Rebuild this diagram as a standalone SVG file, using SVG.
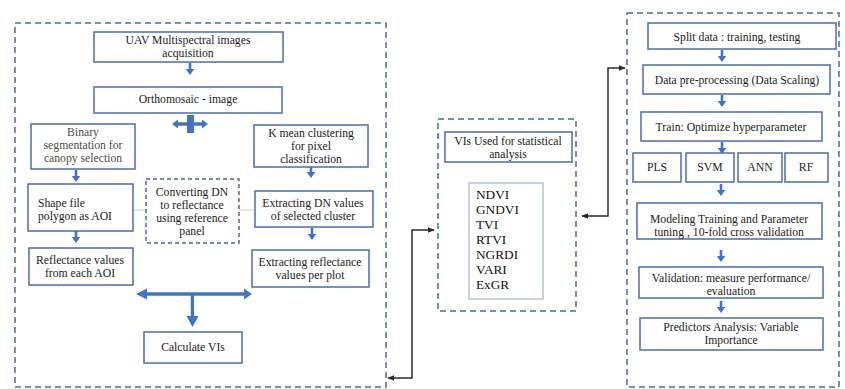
<svg xmlns="http://www.w3.org/2000/svg" xmlns:xlink="http://www.w3.org/1999/xlink" width="845" height="389" viewBox="0 0 845 389">
  <defs>
    <style>
      .box { fill: #ffffff; stroke: #4a6cb0; stroke-width: 1.5; }
      .dash { fill: none; stroke: #4a68a8; stroke-width: 1.5; stroke-dasharray: 6 4; }
      .list { fill: #ffffff; stroke: #a3b3d3; stroke-width: 1.2; }
      .t { font-family: "Liberation Serif", "Times New Roman", serif; font-size: 11.7px; fill: #1c1c1c; text-anchor: middle; }
      .tl { text-anchor: start; }
      .gray { fill: #4d4d4d; }
      .big { font-size: 13.3px; text-anchor: start; fill: #111111; }
      .blue { fill: #4472c4; }
      .link { fill: none; stroke: #2b2b2b; stroke-width: 1.5; }
      .faint { stroke: #c9d2e0; stroke-width: 1; }
    </style>
    <!-- small downward block arrow, origin at the top of the shaft -->
    <path id="down" class="blue" d="M-1.3,0 H1.3 V6 H4.3 L0,12 L-4.3,6 H-1.3 Z"/>
    <marker id="head" viewBox="0 0 10 10" refX="9" refY="5" markerWidth="7" markerHeight="7" orient="auto-start-reverse" markerUnits="userSpaceOnUse">
      <path d="M0,1 L10,5 L0,9 Z" fill="#2b2b2b"/>
    </marker>
  </defs>

  <!-- image processing panel -->
  <rect id="panel-left" class="dash" x="15" y="23" width="371" height="364"/>
  <!-- statistics panel -->
  <rect id="panel-mid" class="dash" x="438" y="119" width="138" height="192"/>
  <!-- modelling panel -->
  <rect id="panel-right" class="dash" x="627" y="13" width="212" height="374"/>

  <g id="connectors">
    <line class="faint" x1="133" y1="210" x2="146" y2="210"/>
    <line class="faint" x1="239" y1="210" x2="255" y2="210"/>

    <use xlink:href="#down" x="190" y="63"/>
    <use xlink:href="#down" x="76" y="170"/>
    <use xlink:href="#down" x="311" y="166"/>
    <use xlink:href="#down" x="76" y="231"/>
    <use xlink:href="#down" x="312" y="228"/>

    <use xlink:href="#down" x="722" y="50"/>
    <use xlink:href="#down" x="722" y="95"/>
    <use xlink:href="#down" x="722" y="142"/>
    <use xlink:href="#down" x="721" y="184"/>
    <use xlink:href="#down" x="721" y="250"/>
    <use xlink:href="#down" x="721" y="301"/>

    <!-- four-way split under the orthomosaic -->
    <path class="blue" d="M172,124 L178,119.5 V122.2 H187 V115 H194 V122.2 H202 V119.5 L208,124 L202,128.5 V125.8 H194 V133 H187 V125.8 H178 V128.5 Z"/>

    <!-- merge arrow into Calculate VIs -->
    <path class="blue" d="M136,294 L147,288.5 V292.3 H244 V288.5 L252,294 L244,299.5 V295.7 H194 V316 H198.5 L192.5,327 L186.5,316 H190.8 V295.7 H147 V299.5 Z"/>

    <!-- links between panels -->
    <polyline class="link" points="388,378 412,378 412,230 434,230" marker-start="url(#head)" marker-end="url(#head)"/>
    <polyline class="link" points="582,216 608,216 608,68 625,68" marker-start="url(#head)" marker-end="url(#head)"/>
  </g>

  <g id="uav">
    <rect class="box" x="94" y="32" width="189" height="30"/>
    <text class="t" x="188" y="44">UAV Multispectral images</text>
    <text class="t" x="188" y="57">acquisition</text>
  </g>

  <g id="ortho">
    <rect class="box" x="94" y="87" width="188" height="26"/>
    <text class="t" x="188" y="103">Orthomosaic - image</text>
  </g>

  <g id="binary">
    <rect class="box" x="31" y="124" width="104" height="45"/>
    <text class="t gray" x="83" y="136">Binary</text>
    <text class="t gray" x="83" y="149">segmentation for</text>
    <text class="t gray" x="83" y="162">canopy selection</text>
  </g>

  <g id="kmean">
    <rect class="box" x="254" y="125" width="114" height="42"/>
    <text class="t" x="311" y="137">K mean clustering</text>
    <text class="t" x="311" y="150">for pixel</text>
    <text class="t" x="311" y="163">classification</text>
  </g>

  <g id="shape">
    <rect class="box" x="28" y="184" width="105" height="47"/>
    <text class="t tl" x="38" y="207">Shape file</text>
    <text class="t tl" x="38" y="220">polygon as AOI</text>
  </g>

  <g id="convert">
    <rect class="dash" x="146" y="179" width="93" height="64" style="stroke-dasharray:4 3"/>
    <text class="t" x="192" y="196">Converting DN</text>
    <text class="t" x="192" y="209">to reflectance</text>
    <text class="t" x="192" y="222">using reference</text>
    <text class="t" x="192" y="235">panel</text>
  </g>

  <g id="extract-dn">
    <rect class="box" x="255" y="191" width="118" height="36"/>
    <text class="t" x="313" y="207">Extracting DN values</text>
    <text class="t" x="313" y="220">of selected cluster</text>
  </g>

  <g id="reflectance">
    <rect class="box" x="29" y="248" width="104" height="37"/>
    <text class="t" x="80" y="264">Reflectance values</text>
    <text class="t" x="80" y="277">from each AOI</text>
  </g>

  <g id="extract-ref">
    <rect class="box" x="252" y="250" width="117" height="37"/>
    <text class="t" x="310" y="266">Extracting reflectance</text>
    <text class="t" x="310" y="279">values per plot</text>
  </g>

  <g id="calc">
    <rect class="box" x="144" y="332" width="98" height="31"/>
    <text class="t" x="193" y="351">Calculate VIs</text>
  </g>

  <g id="vis-title">
    <rect class="box" x="445" y="132" width="127" height="30"/>
    <text class="t" x="508" y="145">VIs Used for statistical</text>
    <text class="t" x="508" y="158">analysis</text>
  </g>

  <g id="vis-list">
    <rect class="list" x="469" y="183" width="74" height="116"/>
    <text class="t big" x="476" y="199">NDVI</text>
    <text class="t big" x="476" y="214">GNDVI</text>
    <text class="t big" x="476" y="229">TVI</text>
    <text class="t big" x="476" y="244">RTVI</text>
    <text class="t big" x="476" y="259">NGRDI</text>
    <text class="t big" x="476" y="274">VARI</text>
    <text class="t big" x="476" y="289">ExGR</text>
  </g>

  <g id="split">
    <rect class="box" x="648" y="23" width="188" height="26"/>
    <text class="t" x="737" y="41">Split data : training, testing</text>
  </g>

  <g id="prep">
    <rect class="box" x="643" y="65" width="187" height="29"/>
    <text class="t" x="737" y="84">Data pre-processing (Data Scaling)</text>
  </g>

  <g id="train">
    <rect class="box" x="641" y="112" width="181" height="29"/>
    <text class="t" x="731" y="131">Train: Optimize hyperparameter</text>
  </g>

  <g id="pls">
    <rect class="box" x="633" y="153" width="48" height="29"/>
    <text class="t" x="657" y="171">PLS</text>
  </g>
  <g id="svm">
    <rect class="box" x="686" y="153" width="48" height="29"/>
    <text class="t" x="710" y="171">SVM</text>
  </g>
  <g id="ann">
    <rect class="box" x="738" y="153" width="44" height="29"/>
    <text class="t" x="760" y="171">ANN</text>
  </g>
  <g id="rf">
    <rect class="box" x="785" y="153" width="43" height="29"/>
    <text class="t" x="806" y="171">RF</text>
  </g>

  <g id="modeling">
    <rect class="box" x="637" y="203" width="185" height="36"/>
    <text class="t" x="729" y="223">Modeling Training and Parameter</text>
    <text class="t" x="729" y="236">tuning , 10-fold cross validation</text>
  </g>

  <g id="validation">
    <rect class="box" x="639" y="267" width="184" height="31"/>
    <text class="t" x="731" y="282">Validation: measure performance/</text>
    <text class="t" x="731" y="295">evaluation</text>
  </g>

  <g id="predictors">
    <rect class="box" x="640" y="318" width="183" height="32"/>
    <text class="t" x="731" y="331">Predictors Analysis: Variable</text>
    <text class="t" x="731" y="344">Importance</text>
  </g>
</svg>
